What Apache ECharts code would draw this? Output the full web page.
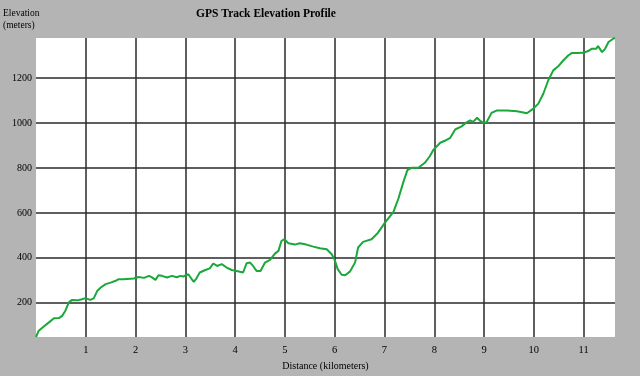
<!DOCTYPE html>
<html>
<head>
<meta charset="utf-8">
<script src="https://cdn.jsdelivr.net/npm/echarts@6/dist/echarts.min.js"></script>
<style>
html,body{margin:0;padding:0;background:#b4b4b4;}
#chart{width:640px;height:376px;}
</style>
</head>
<body>
<div id="chart"></div>
<script>
const titleText = "GPS Track Elevation Profile";
const yAxisTitle = "Elevation\n(meters)";
const xAxisTitle = "Distance (kilometers)";

const distanceKm = [0,0.055,0.156,0.26,0.36,0.46,0.525,0.59,0.66,0.725,0.83,0.925,0.99,1.09,1.16,1.23,1.30,1.40,1.50,1.60,1.66,1.76,1.965,2.06,2.17,2.27,2.33,2.40,2.46,2.53,2.63,2.73,2.83,2.90,2.96,3.06,3.12,3.17,3.22,3.29,3.39,3.49,3.56,3.64,3.73,3.83,3.93,4.03,4.16,4.23,4.30,4.36,4.43,4.51,4.60,4.70,4.80,4.87,4.93,4.99,5.07,5.20,5.30,5.43,5.57,5.70,5.84,5.94,6.00,6.06,6.14,6.21,6.31,6.41,6.47,6.57,6.74,6.87,7.01,7.18,7.28,7.38,7.46,7.55,7.68,7.81,7.91,7.98,8.12,8.22,8.32,8.42,8.55,8.65,8.72,8.78,8.86,8.93,8.99,9.05,9.15,9.25,9.46,9.66,9.79,9.86,9.99,10.09,10.19,10.29,10.39,10.49,10.59,10.69,10.76,10.86,10.99,11.09,11.16,11.25,11.29,11.37,11.43,11.50,11.60,11.63];
const elevationM = [48,76,95,113,131,132,142,165,202,213,211,216,221,213,220,253,268,283,290,298,305,305,308,315,311,320,313,302,323,320,313,320,314,320,317,327,308,293,308,335,345,353,375,364,372,357,346,342,335,376,379,364,342,342,379,391,419,431,475,483,465,459,465,459,450,443,438,416,390,350,325,323,340,380,446,471,483,512,557,605,664,738,790,801,801,823,852,880,912,922,934,971,985,1003,1012,1005,1023,1008,1000,1003,1045,1055,1056,1052,1047,1043,1064,1086,1130,1190,1234,1252,1278,1300,1311,1311,1312,1320,1330,1330,1342,1315,1330,1360,1376,1378];

const xMin = 0, xMax = 11.63, xStep = 1;
const yMin = 48, yMax = 1378;

const points = distanceKm.map((d, i) => [d, elevationM[i]]);
const serif = '"Liberation Serif","Times New Roman",serif';

const chart = echarts.init(document.getElementById('chart'), null, {renderer: 'canvas'});
chart.setOption({
  backgroundColor: '#b4b4b4',
  animation: false,
  title: [
    {text: titleText, left: 266, top: 8, textAlign: 'center', padding: 0,
     textStyle: {fontFamily: serif, fontSize: 11.5, fontWeight: 'bold', color: '#000'}},
    {text: yAxisTitle, left: 3, top: 7, padding: 0,
     textStyle: {fontFamily: serif, fontSize: 9.5, fontWeight: 'normal', color: '#000', lineHeight: 12}}
  ],
  grid: {left: 36, top: 38, right: 25, bottom: 38, show: true, backgroundColor: '#ffffff', borderWidth: 0, containLabel: false},
  xAxis: {
    type: 'value', min: xMin, max: xMax, interval: xStep,
    name: xAxisTitle, nameLocation: 'middle', nameGap: 24,
    nameTextStyle: {fontFamily: serif, fontSize: 10, color: '#000'},
    axisLine: {show: false}, axisTick: {show: false},
    axisLabel: {fontFamily: serif, fontSize: 10.5, color: '#000', margin: 8, showMinLabel: false, showMaxLabel: false,
      formatter: v => String(v)},
    splitLine: {show: true, showMinLine: false, showMaxLine: false, lineStyle: {color: '#2a2a2a', width: 1.5}}
  },
  yAxis: {
    type: 'value', min: yMin, max: yMax, splitNumber: 6,
    axisLine: {show: false}, axisTick: {show: false},
    axisLabel: {fontFamily: serif, fontSize: 10, color: '#000', margin: 4, showMinLabel: false, showMaxLabel: false,
      formatter: v => String(v)},
    splitLine: {show: true, showMinLine: false, showMaxLine: false, lineStyle: {color: '#2a2a2a', width: 1.5}}
  },
  series: [{
    type: 'line', data: points, showSymbol: false, symbol: 'none',
    lineStyle: {color: '#1aa83a', width: 2}, smooth: false, clip: true
  }]
});
</script>
</body>
</html>
